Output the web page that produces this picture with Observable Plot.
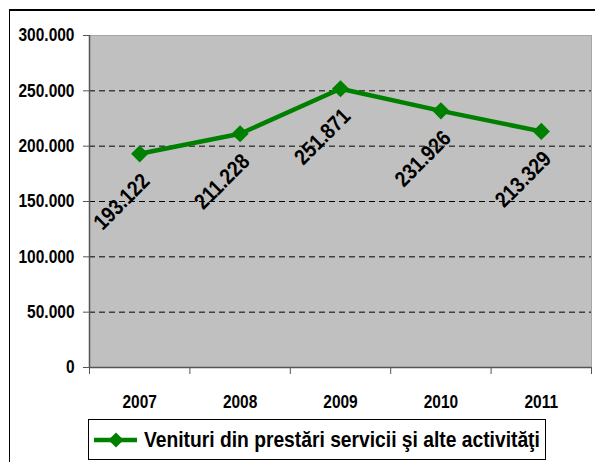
<!DOCTYPE html>
<html>
<head>
<meta charset="utf-8">
<script src="https://cdn.jsdelivr.net/npm/d3@7"></script>
<script src="https://cdn.jsdelivr.net/npm/@observablehq/plot@0.6"></script>
<style>
  html, body { margin: 0; padding: 0; background: #fff; }
  #wrap { position: relative; width: 595px; height: 462px; overflow: hidden; font-family: "Liberation Sans", Arial, sans-serif; font-weight: bold; }
  #frame { position: absolute; left: 9px; top: 9px; width: 700px; height: 600px; border-left: 1.5px solid #000; border-top: 2px solid #000; }
  #legend { position: absolute; left: 88px; top: 419px; width: 456px; height: 39px; border: 1px solid #000; background: #fff; display: flex; align-items: center; }
  #legend svg { flex-shrink: 0; }
  #legend span { font-size: 22px; color: #000; white-space: nowrap; margin-left: 4px; transform: scaleX(0.875); transform-origin: left center; display: inline-block; }
  #chart { position: absolute; left: 0; top: 0; }
</style>
</head>
<body>
<div id="wrap">
  <div id="frame"></div>
  <div id="chart"></div>
  <div id="legend"></div>
</div>
<script>
const years = [2007, 2008, 2009, 2010, 2011];
const values = [193122, 211228, 251871, 231926, 213329];
const yTicks = [0, 50000, 100000, 150000, 200000, 250000, 300000];
const seriesName = "Venituri din prestări servicii şi alte activităţi";

const data = years.map((y, i) => ({year: y, value: values[i]}));
const fmt = d => d3.format(",")(d).replace(/,/g, ".");
const bounds = d3.range(years.length + 1).map(i => years[0] - 0.5 + i);
const green = "#008000";
const font = '"Liberation Sans", Arial, sans-serif';

const chart = Plot.plot({
  width: 595,
  height: 462,
  marginLeft: 89,
  marginRight: 4,
  marginTop: 35,
  marginBottom: 95,
  style: {fontFamily: font, fontWeight: "bold", background: "transparent", overflow: "visible"},
  x: {type: "linear", domain: [bounds[0], bounds[bounds.length - 1]]},
  y: {domain: [0, 300000]},
  marks: [
    Plot.frame({fill: "#c0c0c0", stroke: "#a6a6a6", strokeWidth: 1}),
    Plot.ruleY(yTicks.filter(t => t > 0 && t < 300000), {stroke: "#000", strokeDasharray: "6,4", strokeWidth: 1}),
    Plot.ruleY([0], {stroke: "#555", strokeWidth: 1.5}),
    Plot.ruleX([bounds[0]], {stroke: "#555", strokeWidth: 1.5}),
    Plot.axisY({ticks: yTicks, tickSize: 6, tickPadding: 9, tickFormat: fmt, fontSize: 18, stroke: "#555", fill: "#000", label: null}),
    Plot.axisX({ticks: bounds, tickSize: 7, tickFormat: () => "", stroke: "#555", label: null}),
    Plot.axisX({ticks: years, tickSize: 0, tickPadding: 28, tickFormat: d => String(d), fontSize: 18, fill: "#000", label: null}),
    Plot.line(data, {x: "year", y: "value", stroke: green, strokeWidth: 4.5}),
    Plot.dot(data, {x: "year", y: "value", symbol: "diamond2", r: 6.8, fill: green, stroke: green}),
    Plot.text(data, {x: "year", y: "value", text: d => fmt(d.value), rotate: -45, dx: -18, dy: 48, fontSize: 22, fill: "#000", textAnchor: "middle"})
  ]
});
document.getElementById("chart").appendChild(chart);

// condense all chart text horizontally to mimic a narrow bold face
chart.querySelectorAll("text").forEach(el => {
  const len = el.getComputedTextLength();
  if (len > 0) {
    el.setAttribute("textLength", (len * 0.86).toFixed(1));
    el.setAttribute("lengthAdjust", "spacingAndGlyphs");
  }
});

// legend
const lg = d3.select("#legend");
const sw = lg.append("svg").attr("width", 46).attr("height", 20).style("margin-left", "5px");
sw.append("line").attr("x1", 0).attr("x2", 43).attr("y1", 10).attr("y2", 10).attr("stroke", green).attr("stroke-width", 4.5);
sw.append("path").attr("d", d3.symbol(d3.symbolDiamond2, Math.PI * 6.8 * 6.8)()).attr("transform", "translate(22,10)").attr("fill", green);
lg.append("span").text(seriesName);
</script>
</body>
</html>
